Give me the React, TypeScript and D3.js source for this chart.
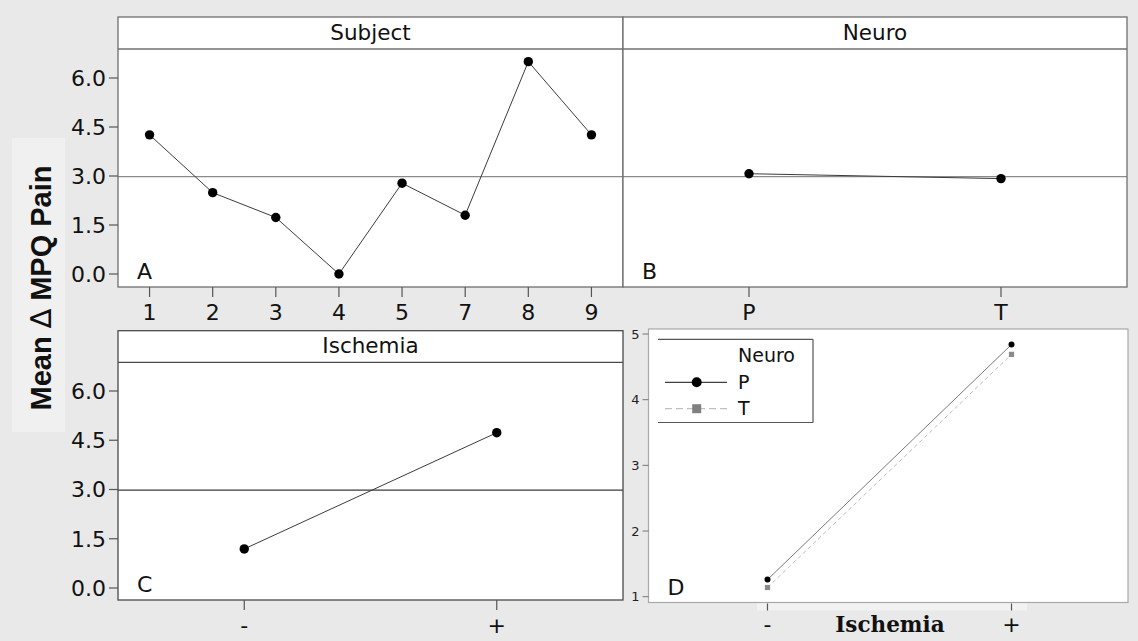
import React from "react";
import * as d3 from "d3";

// Main-effects means for Δ MPQ pain, by factor level
const subjects = ["1", "2", "3", "4", "5", "7", "8", "9"];
const subjectMeans = [4.26, 2.49, 1.73, 0.0, 2.78, 1.8, 6.5, 4.26];
const neuroLevels = ["P", "T"];
const neuroMeans = [3.07, 2.92];
const ischemiaLevels = ["-", "+"];
const ischemiaMeans = [1.19, 4.73];
const grandMean = 2.98;
const mainTicks = [0, 1.5, 3, 4.5, 6];

// Ischemia × Neuro interaction means
const interactionP = [1.26, 4.84];
const interactionT = [1.14, 4.69];
const interactionTicks = [1, 2, 3, 4, 5];

const W = 1138;
const H = 641;
const SANS = "'DejaVu Sans', Verdana, sans-serif";

type PanelProps = {
  x0: number;
  x1: number;
  top: number;
  stripBottom: number;
  bottom: number;
  title: string;
  letter: string;
  levels: string[];
  means: number[];
  y: d3.ScaleLinear<number, number>;
  yAxis: boolean;
  dark: boolean;
};

function MainPanel(p: PanelProps) {
  const x = d3.scalePoint<string>().domain(p.levels).range([p.x0, p.x1]).padding(0.5);
  const line = d3
    .line<number>()
    .x((_, i) => x(p.levels[i]) as number)
    .y((d) => p.y(d));
  const frame = p.dark ? "#4a4a4a" : "#6f6f6f";
  const ref = p.dark ? "#3a3a3a" : "#8a8a8a";
  return (
    <g>
      <rect x={p.x0} y={p.top} width={p.x1 - p.x0} height={p.bottom - p.top} fill="#fff" />
      <line x1={p.x0} x2={p.x1} y1={p.y(grandMean)} y2={p.y(grandMean)} stroke={ref} strokeWidth={1.3} />
      <path d={line(p.means) ?? ""} fill="none" stroke="#3c3c3c" strokeWidth={1} />
      {p.means.map((m, i) => (
        <circle key={i} cx={x(p.levels[i])} cy={p.y(m)} r={4.7} fill="#000" />
      ))}
      <line x1={p.x0} x2={p.x1} y1={p.stripBottom} y2={p.stripBottom} stroke={frame} strokeWidth={1.3} />
      <rect
        x={p.x0}
        y={p.top}
        width={p.x1 - p.x0}
        height={p.bottom - p.top}
        fill="none"
        stroke={frame}
        strokeWidth={1.3}
      />
      <text
        x={(p.x0 + p.x1) / 2}
        y={p.stripBottom - 9}
        textAnchor="middle"
        fontFamily={SANS}
        fontSize={21.5}
        fill="#111"
      >
        {p.title}
      </text>
      <text x={p.x0 + 19} y={p.bottom - 8} fontFamily={SANS} fontSize={22} fill="#111">
        {p.letter}
      </text>
      {p.levels.map((l) => (
        <g key={l}>
          <line x1={x(l)} x2={x(l)} y1={p.bottom} y2={p.bottom + 10} stroke="#555" strokeWidth={1.2} />
          <text
            x={x(l)}
            y={p.bottom + 33}
            textAnchor="middle"
            fontFamily={SANS}
            fontSize={22}
            fill="#111"
          >
            {l}
          </text>
        </g>
      ))}
      {p.yAxis &&
        mainTicks.map((t) => (
          <g key={t}>
            <line x1={p.x0 - 9} x2={p.x0} y1={p.y(t)} y2={p.y(t)} stroke="#555" strokeWidth={1.2} />
            <text
              x={p.x0 - 12}
              y={p.y(t)}
              dy="0.36em"
              textAnchor="end"
              fontFamily={SANS}
              fontSize={22}
              fill="#111"
            >
              {d3.format(".1f")(t)}
            </text>
          </g>
        ))}
    </g>
  );
}

function InteractionPanel() {
  const left = 648.5;
  const right = 1128;
  const top = 329;
  const bottom = 602.5;
  const x = d3.scalePoint<string>().domain(ischemiaLevels).range([767.5, 1011.5]).padding(0);
  const y = d3.scaleLinear().domain([1, 5]).range([596.7, 334]);
  const line = d3
    .line<number>()
    .x((_, i) => x(ischemiaLevels[i]) as number)
    .y((d) => y(d));
  return (
    <g>
      <rect x={757} y={bottom} width={270} height={8} fill="#f2f2f2" />
      <rect x={left} y={top} width={right - left} height={bottom - top} fill="#fff" stroke="#a8a8a8" strokeWidth={1.2} />
      <path d={line(interactionT) ?? ""} fill="none" stroke="#b4b4b4" strokeWidth={0.9} strokeDasharray="4 3" />
      <path d={line(interactionP) ?? ""} fill="none" stroke="#6a6a6a" strokeWidth={0.9} />
      {interactionT.map((v, i) => (
        <rect
          key={"t" + i}
          x={(x(ischemiaLevels[i]) as number) - 2.6}
          y={y(v) - 2.6}
          width={5.2}
          height={5.2}
          fill="#8a8a8a"
        />
      ))}
      {interactionP.map((v, i) => (
        <circle key={"p" + i} cx={x(ischemiaLevels[i])} cy={y(v)} r={3} fill="#000" />
      ))}
      {interactionTicks.map((t) => (
        <g key={t}>
          <line x1={left - 6} x2={left} y1={y(t)} y2={y(t)} stroke="#777" strokeWidth={1} />
          <text x={left - 9} y={y(t)} dy="0.36em" textAnchor="end" fontFamily={SANS} fontSize={13} fill="#222">
            {t}
          </text>
        </g>
      ))}
      {ischemiaLevels.map((l) => (
        <g key={l}>
          <line x1={x(l)} x2={x(l)} y1={bottom + 1} y2={bottom + 8} stroke="#555" strokeWidth={1.2} />
          <text x={x(l)} y={632} textAnchor="middle" fontFamily={SANS} fontSize={22} fill="#111">
            {l}
          </text>
        </g>
      ))}
      <text
        x={890}
        y={632}
        textAnchor="middle"
        fontFamily="'DejaVu Serif', serif"
        fontWeight="bold"
        fontSize={21.5}
        fill="#111"
      >
        Ischemia
      </text>
      <text x={left + 19} y={bottom - 8} fontFamily={SANS} fontSize={22} fill="#111">
        D
      </text>
      {/* legend */}
      <g>
        <line x1={658} x2={813} y1={339.3} y2={339.3} stroke="#555" strokeWidth={1.2} />
        <line x1={658} x2={813} y1={422.5} y2={422.5} stroke="#555" strokeWidth={1.2} />
        <line x1={813} x2={813} y1={339.3} y2={422.5} stroke="#555" strokeWidth={1.2} />
        <text x={738} y={362} fontFamily={SANS} fontSize={19} fill="#111">
          Neuro
        </text>
        <line x1={665} x2={727} y1={382.3} y2={382.3} stroke="#111" strokeWidth={1} />
        <circle cx={696.7} cy={382.3} r={5} fill="#000" />
        <text x={738} y={388.5} fontFamily={SANS} fontSize={19} fill="#111">
          P
        </text>
        <line x1={665} x2={727} y1={408.7} y2={408.7} stroke="#c0c0c0" strokeWidth={1.2} strokeDasharray="7 4" />
        <rect x={692.2} y={404.2} width={9} height={9} fill="#808080" />
        <text x={738} y={414.5} fontFamily={SANS} fontSize={19} fill="#111">
          T
        </text>
      </g>
    </g>
  );
}

export default function App() {
  const yTop = d3.scaleLinear().domain([0, 6]).range([274, 78]);
  const yBottom = d3.scaleLinear().domain([0, 6]).range([588, 391]);
  return (
    <svg
      width={W}
      height={H}
      style={{ position: "absolute", left: 0, top: 0, display: "block" }}
      xmlns="http://www.w3.org/2000/svg"
    >
      <rect x={0} y={0} width={W} height={H} fill="#e9e9e9" />
      <rect x={12} y={138} width={53} height={294} fill="#f0f0f0" />
      <MainPanel
        x0={118}
        x1={623}
        top={17}
        stripBottom={49}
        bottom={287}
        title="Subject"
        letter="A"
        levels={subjects}
        means={subjectMeans}
        y={yTop}
        yAxis={true}
        dark={false}
      />
      <MainPanel
        x0={623}
        x1={1127}
        top={17}
        stripBottom={49}
        bottom={287}
        title="Neuro"
        letter="B"
        levels={neuroLevels}
        means={neuroMeans}
        y={yTop}
        yAxis={false}
        dark={false}
      />
      <MainPanel
        x0={118}
        x1={623}
        top={330.7}
        stripBottom={362.3}
        bottom={600}
        title="Ischemia"
        letter="C"
        levels={ischemiaLevels}
        means={ischemiaMeans}
        y={yBottom}
        yAxis={true}
        dark={true}
      />
      <InteractionPanel />
      <text
        transform="translate(51,288) rotate(-90)"
        textAnchor="middle"
        fontFamily="'Liberation Sans', Arial, sans-serif"
        fontWeight="bold"
        fontSize={29}
        fill="#111"
      >
        Mean <tspan fontWeight="normal" fontFamily="'DejaVu Sans', sans-serif">∆</tspan> MPQ Pain
      </text>
    </svg>
  );
}
